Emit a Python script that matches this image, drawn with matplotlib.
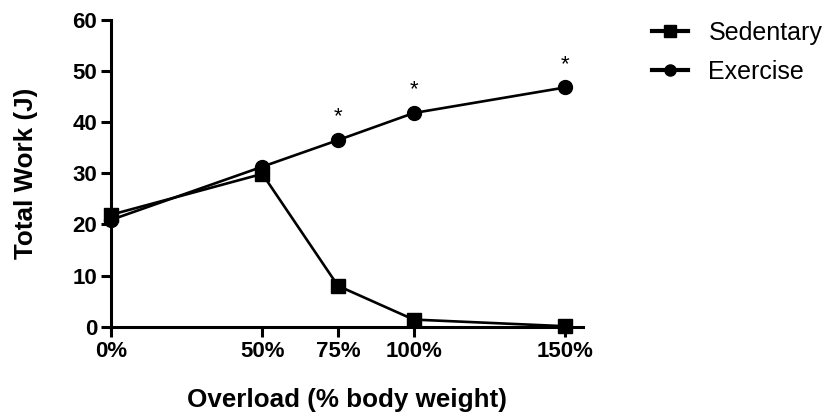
import numpy as np
import matplotlib.pyplot as plt

plt.rcParams['font.family'] = ['Liberation Sans', 'DejaVu Sans']

overload = [0, 50, 75, 100, 150]
tick_labels = ['0%', '50%', '75%', '100%', '150%']
sedentary = [21.9, 29.9, 8.0, 1.4, 0.1]
exercise = [20.9, 31.3, 36.5, 41.8, 46.8]
signif = [False, False, True, True, True]

fig = plt.figure(figsize=(8.26, 4.17), dpi=100)
ax = fig.add_axes([0.1344, 0.2165, 0.5715, 0.7355])

ax.plot(overload, sedentary, color='black', lw=1.9, marker='s', ms=10,
        label='Sedentary', clip_on=False, zorder=3)
ax.plot(overload, exercise, color='black', lw=1.9, marker='o', ms=10,
        label='Exercise', clip_on=False, zorder=3)

for x, y, s in zip(overload, exercise, signif):
    if s:
        ax.annotate('*', (x, y), xytext=(0, 9), textcoords='offset points',
                    ha='center', va='bottom', fontsize=16)

ax.set_xlim(0, 156)
ax.set_ylim(0, 60)
ax.set_xticks(overload)
ax.set_xticklabels(tick_labels)
ax.set_yticks(np.arange(0, 61, 10))

for side in ['top', 'right']:
    ax.spines[side].set_visible(False)
for side in ['left', 'bottom']:
    ax.spines[side].set_linewidth(2.2)

ax.tick_params(width=2.2, length=7, labelsize=16, pad=3)
for lab in ax.get_xticklabels() + ax.get_yticklabels():
    lab.set_fontweight('bold')

ax.set_xlabel('Overload (% body weight)', fontsize=18.7, fontweight='bold', labelpad=19)
ax.set_ylabel('Total Work (J)', fontsize=18.7, fontweight='bold', labelpad=25)

leg = ax.legend(loc='upper left', bbox_to_anchor=(1.125, 1.029), frameon=False,
                fontsize=18, handlelength=1.45, handletextpad=0.8,
                markerscale=0.8, labelspacing=0.6, borderaxespad=0)
for line in leg.get_lines():
    line.set_linewidth(3)

fig.savefig('out.png', dpi=100)
